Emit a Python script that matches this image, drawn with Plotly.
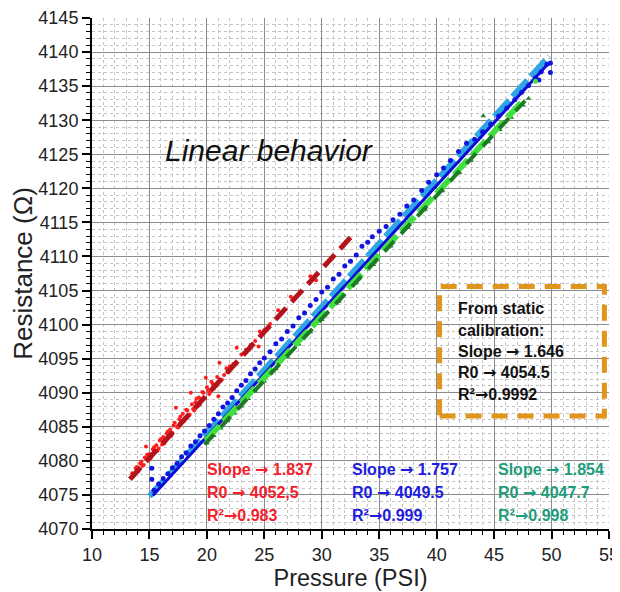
import plotly.graph_objects as go

# ---------------- data ----------------
red_x = [13.5, 13.7, 13.9, 14.1, 14.2, 14.4, 14.6, 14.7, 14.9, 15.0, 15.2, 15.3, 15.5, 15.6,
         15.8, 15.9, 16.1, 16.2, 16.4, 16.5, 16.7, 16.8, 17.0, 17.1, 17.3, 17.4, 17.6, 17.8,
         17.9, 18.1, 18.3, 18.4, 18.6, 18.8, 19.0, 19.2, 19.3, 19.5, 19.7, 19.9, 20.1, 20.3,
         20.5, 20.8, 21.0, 21.1, 21.5, 21.8, 22.0, 22.3, 22.6, 23.0, 23.4, 23.8, 24.2, 24.5,
         24.6, 25.0, 25.5, 26.2, 27.3, 28.2, 29.0, 29.5,
         13.6, 13.8, 14.0, 14.3, 14.5, 14.8, 15.1, 15.4, 15.7, 16.0, 16.3, 16.6, 16.9, 17.2,
         17.5, 17.7, 18.0, 18.2, 18.5, 18.7, 18.9, 19.1, 19.4, 19.6, 19.8, 20.0, 20.2, 20.4,
         20.6, 20.9, 21.3, 21.7]
red_y = [4078.2, 4078.0, 4079.1, 4078.7, 4079.6, 4079.3, 4080.5, 4082.1, 4080.2, 4081.0,
         4080.8, 4081.7, 4081.4, 4082.3, 4081.8, 4083.0, 4082.4, 4083.5, 4082.9, 4084.0,
         4083.5, 4084.6, 4084.1, 4085.2, 4087.8, 4085.0, 4086.1, 4085.6, 4086.9, 4086.2,
         4087.4, 4086.7, 4090.0, 4087.6, 4088.6, 4088.0, 4089.3, 4088.8, 4090.0, 4092.2,
         4090.4, 4090.1, 4091.3, 4091.0, 4089.5, 4094.4, 4092.6, 4093.0, 4093.9, 4094.2,
         4096.6, 4095.6, 4096.3, 4097.0, 4097.6, 4096.8, 4099.0, 4099.2, 4100.1, 4102.1,
         4104.1, 4104.8, 4107.1, 4106.5,
         4077.7, 4078.9, 4078.4, 4079.9, 4079.4, 4080.9, 4080.4, 4082.0, 4081.5, 4083.2,
         4082.6, 4084.3, 4083.7, 4085.6, 4084.9, 4086.5, 4085.8, 4087.5, 4086.8, 4088.3,
         4087.4, 4089.1, 4088.3, 4090.1, 4089.2, 4090.8, 4089.8, 4091.6, 4090.6, 4092.3,
         4091.9, 4093.6]

blue_x = [15.2, 15.2, 15.4, 15.8, 16.2, 16.6, 17.0, 17.4, 17.8, 18.2, 18.6, 19.0, 19.4, 19.8,
          20.2, 20.6, 21.0, 21.4, 21.8, 22.2, 22.6, 23.0, 23.4, 23.8, 24.2, 24.6, 25.0, 25.5,
          26.0, 26.5, 27.0, 27.5, 28.0, 28.5, 29.0, 29.5, 30.0, 30.5, 31.0, 31.5, 32.0, 32.5,
          33.0, 33.5, 34.0, 34.4, 35.0, 35.6, 36.2, 36.8, 37.4, 38.0, 38.7, 39.3, 40.0, 40.6,
          41.2, 41.9, 42.6, 43.3, 44.0, 44.7, 45.4, 46.1, 46.8, 47.4, 48.0, 48.6, 48.9, 49.1,
          49.6, 49.9, 49.9]
blue_y = [4078.9, 4077.3, 4075.7, 4076.6, 4077.4, 4078.1, 4079.0, 4079.6, 4080.6, 4081.2,
          4082.2, 4082.8, 4083.7, 4084.4, 4085.2, 4086.1, 4086.9, 4087.9, 4088.5, 4089.3,
          4090.3, 4091.1, 4091.8, 4092.8, 4093.5, 4094.4, 4095.1, 4096.0, 4097.2, 4097.9,
          4099.0, 4099.8, 4101.0, 4101.7, 4102.8, 4103.7, 4104.8, 4105.5, 4106.7, 4107.4,
          4108.6, 4109.3, 4110.2, 4111.5, 4112.1, 4112.9, 4113.7, 4114.4, 4115.4, 4116.2,
          4117.4, 4118.3, 4119.7, 4120.9, 4122.0, 4123.0, 4124.1, 4125.4, 4126.6, 4127.2,
          4128.3, 4129.4, 4130.6, 4131.8, 4133.0, 4134.1, 4135.1, 4136.2, 4135.9, 4137.1,
          4138.2, 4138.4, 4137.0]

green_x = [20.0, 20.6, 21.2, 21.8, 22.4, 23.0, 23.6, 24.2, 25.0, 26.0, 27.0, 28.0, 29.0, 30.0,
           31.5, 33.0, 34.5, 36.0, 37.5, 39.0, 40.5, 42.0, 43.0, 44.05, 44.5, 45.5, 46.5, 47.5, 48.0]
green_y = [4082.6, 4083.7, 4084.8, 4085.9, 4087.0, 4088.0, 4089.1, 4090.2, 4091.7, 4093.5,
           4095.3, 4097.1, 4098.9, 4100.7, 4103.4, 4106.1, 4108.8, 4111.5, 4114.2, 4116.9,
           4119.6, 4122.3, 4124.1, 4130.6, 4126.8, 4128.6, 4130.4, 4132.2, 4133.2]
green_extra_x = [48.6]
green_extra_y = [4135.7]

# fit lines (end points)
red_fit_x = [13.3, 32.5]
red_fit_y = [4077.3, 4112.8]
lightblue_fit_x = [15.0, 49.8]
lightblue_fit_y = [4074.8, 4139.4]
blue_fit_x = [15.3, 49.7]
blue_fit_y = [4074.9, 4138.3]
darkgreen_fit_x = [19.8, 48.0]
darkgreen_fit_y = [4082.4, 4133.4]
lightgreen_fit_x = [19.9, 47.6]
lightgreen_fit_y = [4083.0, 4133.0]

ARROW = '<span style="font-family:DejaVu Sans">\u2192</span>'
red_text = ["Slope " + ARROW + " 1.837", "R0 " + ARROW + " 4052,5", "R\u00b2" + ARROW + "0.983"]
blue_text = ["Slope " + ARROW + " 1.757", "R0 " + ARROW + " 4049.5", "R\u00b2" + ARROW + "0.999"]
green_text = ["Slope " + ARROW + " 1.854", "R0 " + ARROW + " 4047.7", "R\u00b2" + ARROW + "0.998"]
box_text = ["From static", "calibration:", "Slope " + ARROW + " 1.646", "R0 " + ARROW + " 4054.5",
            "R\u00b2" + ARROW + "0.9992"]

x_ticks = [10, 15, 20, 25, 30, 35, 40, 45, 50, 55]
y_ticks = list(range(4070, 4146, 5))

FONT = "Arial, Liberation Sans, sans-serif"

fig = go.Figure()

fig.add_trace(go.Scatter(x=red_x, y=red_y, mode="markers",
                         marker=dict(color="#ff1c1c", size=4), showlegend=False))
fig.add_trace(go.Scatter(x=red_fit_x, y=red_fit_y, mode="lines",
                         line=dict(color="#b3131b", width=5, dash="16px,8px"), showlegend=False))
fig.add_trace(go.Scatter(x=lightblue_fit_x, y=lightblue_fit_y, mode="lines",
                         line=dict(color="#2ea6e6", width=6, dash="22px,5px"), showlegend=False))
fig.add_trace(go.Scatter(x=blue_x, y=blue_y, mode="markers",
                         marker=dict(color="#1414e0", size=5), showlegend=False))
fig.add_trace(go.Scatter(x=blue_fit_x, y=blue_fit_y, mode="lines",
                         line=dict(color="#0c0cd6", width=3), showlegend=False))
fig.add_trace(go.Scatter(x=green_x, y=green_y, mode="markers",
                         marker=dict(color="#1e7e2a", size=5, symbol="triangle-up"), showlegend=False))
fig.add_trace(go.Scatter(x=green_extra_x, y=green_extra_y, mode="markers",
                         marker=dict(color="#44e044", size=5), showlegend=False))
fig.add_trace(go.Scatter(x=lightgreen_fit_x, y=lightgreen_fit_y, mode="lines",
                         line=dict(color="#3fe03f", width=6, dash="20px,6px"), showlegend=False))
fig.add_trace(go.Scatter(x=darkgreen_fit_x, y=darkgreen_fit_y, mode="lines",
                         line=dict(color="#1f7a25", width=4, dash="14px,10px"), showlegend=False))

annotations = []
annotations.append(dict(x=16.15, y=4125.6, xref="x", yref="y", text="<i>Linear behavior</i>",
                        showarrow=False, xanchor="left", yanchor="middle",
                        font=dict(family=FONT, size=30, color="#111111")))

line_y3 = [4078.8, 4075.4, 4072.0]
for texts, x0, col in [(red_text, 19.85, "#f5202a"), (blue_text, 32.45, "#1c1ce0"),
                       (green_text, 45.2, "#1e9c7c")]:
    for t, yy in zip(texts, line_y3):
        annotations.append(dict(x=x0, y=yy, xref="x", yref="y", text="<b>" + t + "</b>",
                                showarrow=False, xanchor="left", yanchor="middle",
                                font=dict(family=FONT, size=16, color=col)))

box_y = [4102.3, 4099.1, 4096.0, 4093.0, 4089.8]
for t, yy in zip(box_text, box_y):
    annotations.append(dict(x=41.7, y=yy, xref="x", yref="y", text="<b>" + t + "</b>",
                            showarrow=False, xanchor="left", yanchor="middle",
                            font=dict(family=FONT, size=16, color="#111111")))

fig.add_shape(type="rect", x0=40.25, x1=54.6, y0=4086.6, y1=4105.6, xref="x", yref="y",
              line=dict(color="#e0951c", width=5, dash="16px,10px"))

# the page body adds an 8px margin, so the figure is drawn 8px smaller to fit the window
fig.update_layout(
    width=612, height=584,
    margin=dict(l=84, r=11, t=10, b=63, autoexpand=False),
    paper_bgcolor="white", plot_bgcolor="white",
    font=dict(family=FONT, color="#222222"),
    annotations=annotations,
    showlegend=False,
)
fig.update_xaxes(
    range=[10, 55], tickvals=x_ticks, ticktext=[str(v) for v in x_ticks],
    ticklabeloverflow="allow", automargin=False,
    showline=True, linecolor="black", linewidth=2, mirror=False,
    ticks="outside", ticklen=8, tickwidth=1.5, tickcolor="black",
    tickfont=dict(size=18, color="#222222", family=FONT),
    showgrid=True, gridcolor="#8c8c8c", gridwidth=1, zeroline=False,
    minor=dict(dtick=1, tick0=10, ticks="outside", ticklen=4, tickcolor="black", tickwidth=1,
               showgrid=True, gridcolor="#c4c4c4", griddash="dot", gridwidth=1),
    title=dict(text="Pressure (PSI)", font=dict(size=23.5, color="#222222", family=FONT), standoff=5),
)
fig.update_yaxes(
    range=[4070, 4145], tickvals=y_ticks, ticktext=[str(v) for v in y_ticks],
    automargin=False,
    showline=True, linecolor="black", linewidth=2, mirror=False,
    ticks="outside", ticklen=8, tickwidth=1.5, tickcolor="black",
    tickfont=dict(size=18, color="#222222", family=FONT),
    showgrid=True, gridcolor="#8c8c8c", gridwidth=1, zeroline=False,
    minor=dict(dtick=1, tick0=4070, ticks="outside", ticklen=4, tickcolor="black", tickwidth=1,
               showgrid=True, gridcolor="#c4c4c4", griddash="dot", gridwidth=1),
    title=dict(text="Resistance (\u03a9)", font=dict(size=26, color="#222222", family=FONT), standoff=4),
)

fig.write_html("out.html")
